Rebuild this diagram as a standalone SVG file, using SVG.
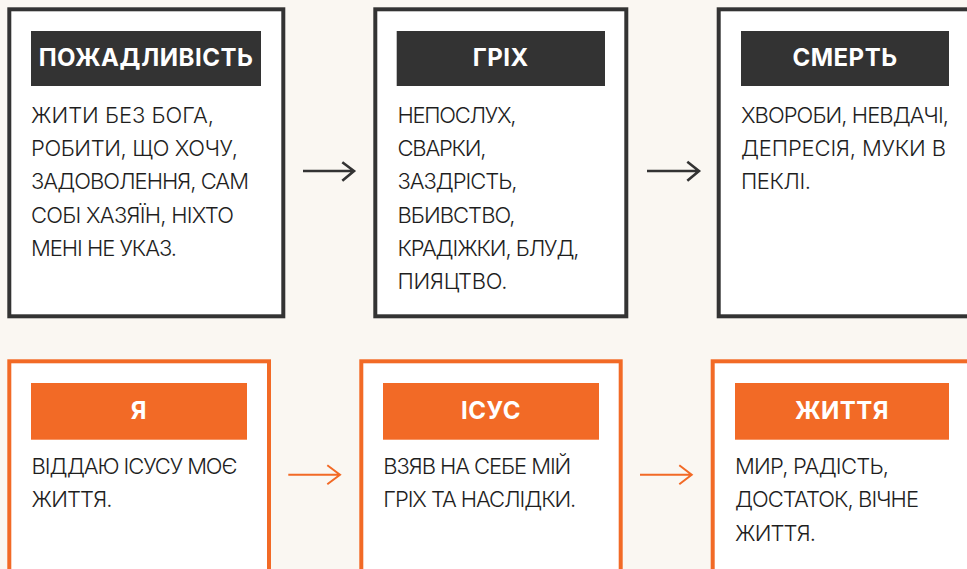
<svg xmlns="http://www.w3.org/2000/svg" width="967" height="569" viewBox="0 0 967 569">
<defs>
<style>
.bg{fill:#FAF7F2}
.dk{fill:#fff;stroke:#333333;stroke-width:4}
.or{fill:#fff;stroke:#F26A26;stroke-width:4}
.hdk{fill:#333333}
.hor{fill:#F26A26}
.ht{font-family:Inter,"Noto Sans",sans-serif;font-weight:700;font-size:24px;letter-spacing:0.5px;fill:#fff;text-anchor:middle}
.bt{font-family:Inter,"Noto Sans",sans-serif;font-weight:300;font-size:22px;fill:#1e1e1e}
.adk{fill:none;stroke:#333333;stroke-width:2.6;stroke-linecap:butt;stroke-linejoin:miter}
.aor{fill:none;stroke:#F26A26;stroke-width:2;stroke-linecap:butt;stroke-linejoin:miter}
</style>
</defs>
<rect class="bg" x="0" y="0" width="967" height="569"/>
<g id="connectors">
<path class="adk" d="M303 171H353M342.3 162.3L354 171L342.3 180.7"/>
<path class="adk" d="M647 171H698M687.3 161.7L699 171L687.3 180.7"/>
<path class="aor" d="M288.3 474.7H339M327.3 465.3L340 474.7L327.3 484.3"/>
<path class="aor" d="M640 474.7H690.5M679.3 465.3L691.7 474.7L679.3 484.3"/>
</g>
<g id="node-pozhadlyvist">
<rect class="dk" x="9.3" y="9.3" width="274" height="307"/>
<rect class="hdk" x="31" y="31" width="230" height="55"/>
<text class="ht" x="146" y="66">ПОЖАДЛИВІСТЬ</text>
<text class="bt" x="31" y="122.7" textLength="183">ЖИТИ БЕЗ БОГА,</text>
<text class="bt" x="31" y="156" textLength="207">РОБИТИ, ЩО ХОЧУ,</text>
<text class="bt" x="31" y="189.3" textLength="218">ЗАДОВОЛЕННЯ, САМ</text>
<text class="bt" x="31" y="222.7" textLength="203">СОБІ ХАЗЯЇН, НІХТО</text>
<text class="bt" x="31" y="256" textLength="146">МЕНІ НЕ УКАЗ.</text>
</g>
<g id="node-grikh">
<rect class="dk" x="375.3" y="9.3" width="251" height="307"/>
<rect class="hdk" x="396.7" y="31" width="208.3" height="55"/>
<text class="ht" x="500.8" y="66">ГРІХ</text>
<text class="bt" x="397.5" y="122.7" textLength="119">НЕПОСЛУХ,</text>
<text class="bt" x="397.5" y="156" textLength="89">СВАРКИ,</text>
<text class="bt" x="397.5" y="189.3" textLength="120">ЗАЗДРІСТЬ,</text>
<text class="bt" x="397.5" y="222.7" textLength="118">ВБИВСТВО,</text>
<text class="bt" x="397.5" y="256" textLength="182">КРАДІЖКИ, БЛУД,</text>
<text class="bt" x="397.5" y="289.3" textLength="110">ПИЯЦТВО.</text>
</g>
<g id="node-smert">
<rect class="dk" x="718.7" y="9.3" width="251" height="307"/>
<rect class="hdk" x="741" y="31" width="208" height="55"/>
<text class="ht" x="845" y="66">СМЕРТЬ</text>
<text class="bt" x="741" y="122.7" textLength="208">ХВОРОБИ, НЕВДАЧІ,</text>
<text class="bt" x="741" y="156" textLength="205">ДЕПРЕСІЯ, МУКИ В</text>
<text class="bt" x="741" y="189.3" textLength="70">ПЕКЛІ.</text>
</g>
<g id="node-ya">
<rect class="or" x="9.3" y="361.3" width="259.7" height="260"/>
<rect class="hor" x="31" y="383" width="216" height="56.7"/>
<text class="ht" x="139" y="419">Я</text>
<text class="bt" x="31.5" y="474" textLength="206">ВІДДАЮ ІСУСУ МОЄ</text>
<text class="bt" x="31.5" y="507.3" textLength="81">ЖИТТЯ.</text>
</g>
<g id="node-isus">
<rect class="or" x="361.3" y="361.3" width="259.4" height="260"/>
<rect class="hor" x="383" y="383" width="216" height="56.7"/>
<text class="ht" x="491" y="419">ІСУС</text>
<text class="bt" x="383.3" y="474" textLength="188">ВЗЯВ НА СЕБЕ МІЙ</text>
<text class="bt" x="383.3" y="507.3" textLength="193">ГРІХ ТА НАСЛІДКИ.</text>
</g>
<g id="node-zhyttia">
<rect class="or" x="712.7" y="361.3" width="259.4" height="260"/>
<rect class="hor" x="735" y="383" width="214" height="56.7"/>
<text class="ht" x="842" y="419">ЖИТТЯ</text>
<text class="bt" x="735" y="474" textLength="154">МИР, РАДІСТЬ,</text>
<text class="bt" x="735" y="507.3" textLength="184">ДОСТАТОК, ВІЧНЕ</text>
<text class="bt" x="735" y="540.7" textLength="81">ЖИТТЯ.</text>
</g>
</svg>
